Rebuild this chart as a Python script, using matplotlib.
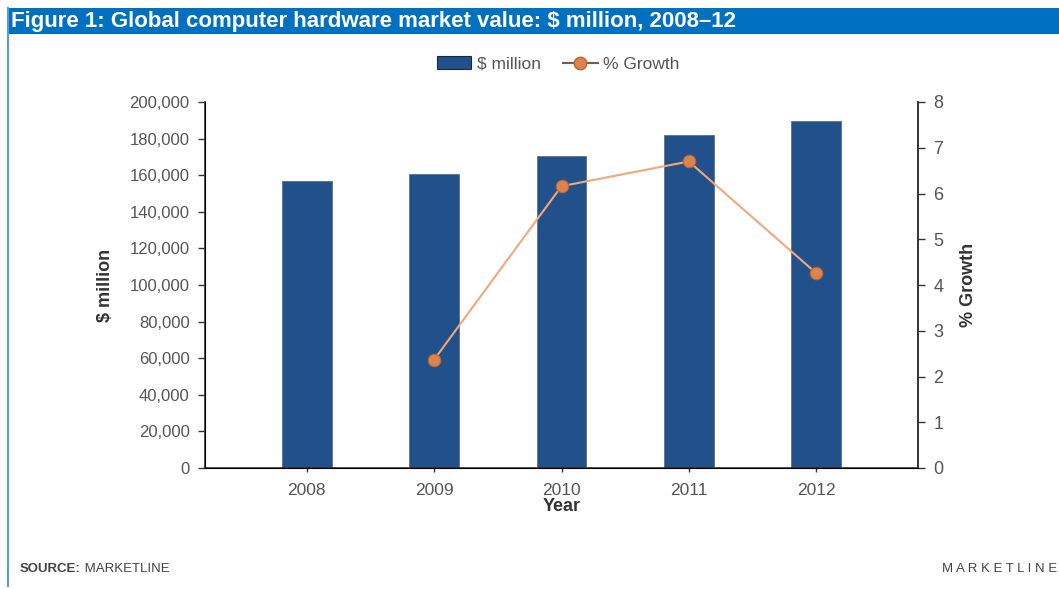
import matplotlib
matplotlib.use("Agg")
import matplotlib.pyplot as plt
from matplotlib.patches import Rectangle
from matplotlib.lines import Line2D
import numpy as np

years = ["2008", "2009", "2010", "2011", "2012"]
market_value = [157000, 160700, 170700, 182100, 189800]   # $ million
growth = [np.nan, 2.37, 6.16, 6.70, 4.26]                 # % growth

yticks_left = list(range(0, 200001, 20000))
yticks_right = list(range(0, 9))

plt.rcParams['font.family'] = ['Liberation Sans', 'DejaVu Sans']

bar_color = '#21508b'
line_color = '#f2a77c'
marker_color = '#dc8450'
tick_color = '#555555'
label_color = '#333333'
spine_color = '#333333'

W, H = 1059, 589
fig = plt.figure(figsize=(W / 100, H / 100), dpi=100)

def fx(px):
    return px / W

def fy(py):
    return 1 - py / H

# header band and left frame line
fig.patches.append(Rectangle((fx(7), fy(34)), 1 - fx(7), fy(8) - fy(34),
                             transform=fig.transFigure, facecolor='#0070c0',
                             edgecolor='none', zorder=0))
fig.add_artist(Line2D([fx(7.5), fx(7.5)], [fy(8), fy(586)], transform=fig.transFigure,
                      color='#5b9bd5', lw=1.5))
fig.text(fx(11), fy(21), "Figure 1: Global computer hardware market value: \\$ million, 2008\u201312",
         color='white', fontsize=16, fontweight='bold', va='center', ha='left',
         family=['Liberation Sans Narrow', 'Liberation Sans', 'DejaVu Sans'])

ax = fig.add_axes([fx(205), fy(468), fx(918) - fx(205), fy(102) - fy(468)])
x = np.arange(len(years))
ax.bar(x, market_value, width=0.39, color=bar_color, edgecolor='#5a6f8f',
       linewidth=0.6, zorder=2)
ax.set_xlim(-0.8, 4.8)
ax.set_ylim(0, 200000)
ax.set_yticks(yticks_left)
ax.set_yticklabels([f"{v:,}" for v in yticks_left])
ax.set_xticks(x)
ax.set_xticklabels(years)
ax.tick_params(axis='y', direction='out', length=5, width=1, colors=spine_color,
               labelcolor=tick_color, labelsize=12, pad=6)
ax.tick_params(axis='x', direction='out', length=3, width=1, colors=spine_color,
               labelcolor=tick_color, labelsize=12.5, pad=8)
ax.spines['top'].set_visible(False)
for s in ['left', 'bottom', 'right']:
    ax.spines[s].set_color(spine_color)
    ax.spines[s].set_linewidth(1.2)
ax.set_xlabel("Year", fontsize=13, fontweight='bold', color=label_color, labelpad=0)
ax.set_ylabel("\\$ million", fontsize=13, fontweight='bold', color=label_color, labelpad=11)

# growth line on the secondary axis
ax2 = ax.twinx()
ax2.plot(x, growth, color=line_color, lw=1.5, marker='o', markersize=9,
         markerfacecolor=marker_color, markeredgecolor='#b9652f', markeredgewidth=0.8,
         zorder=3)
ax2.set_ylim(0, 8)
ax2.set_yticks(yticks_right)
ax2.tick_params(axis='y', direction='out', length=5, width=1, colors=spine_color,
                labelcolor=tick_color, labelsize=13, pad=6)
ax2.spines['top'].set_visible(False)
ax2.spines['right'].set_color(spine_color)
ax2.spines['right'].set_linewidth(1.2)
ax2.set_ylabel("% Growth", fontsize=13, fontweight='bold', color=label_color, labelpad=12)

handles = [
    Rectangle((0, 0), 1, 1, facecolor=bar_color, edgecolor='#1a2a40', linewidth=0.8),
    Line2D([], [], color='#7a5a48', lw=1.5, marker='o', markersize=9,
           markerfacecolor=marker_color, markeredgecolor='#b9652f'),
]
fig.legend(handles, ["\\$ million", "% Growth"], loc='center', bbox_to_anchor=(fx(558), fy(64)),
           ncol=2, frameon=False, fontsize=12.5, labelcolor=tick_color,
           handlelength=2.0, handletextpad=0.3, columnspacing=1.3)

# footer
src = fig.text(fx(20), fy(569), "SOURCE:", fontsize=9.5, fontweight='bold', color='#444444',
               va='center', ha='left')
plt.annotate(" MARKETLINE", xy=(1, 0.5), xycoords=src, fontsize=9.5, color='#444444',
             va='center', ha='left', annotation_clip=False)
fig.text(fx(1057), fy(569), " ".join("MARKETLINE"), fontsize=9.5, color='#444444',
         va='center', ha='right')

fig.savefig("out.png", dpi=100)
